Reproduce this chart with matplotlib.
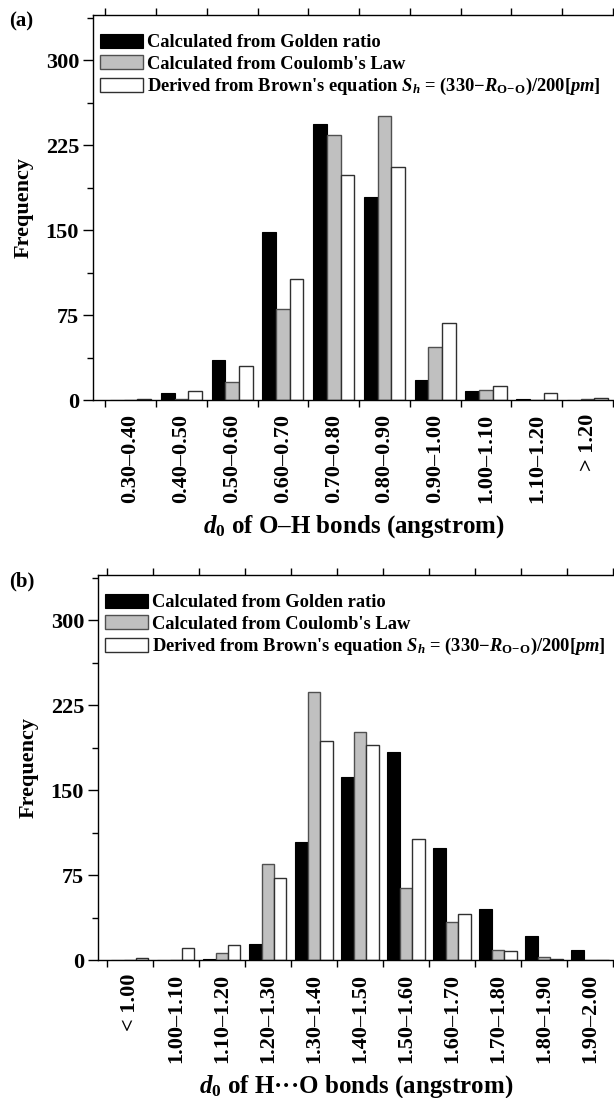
import matplotlib
matplotlib.use("Agg")
import matplotlib.pyplot as plt
import numpy as np
from matplotlib.ticker import FixedLocator, NullFormatter, FixedFormatter

plt.rcParams['font.family'] = ['Liberation Serif', 'DejaVu Serif']
plt.rcParams['font.weight'] = 'bold'
plt.rcParams['mathtext.fontset'] = 'custom'
plt.rcParams['mathtext.rm'] = 'Liberation Serif:bold'
plt.rcParams['mathtext.it'] = 'Liberation Serif:bold:italic'
plt.rcParams['mathtext.bf'] = 'Liberation Serif:bold'

# ---------------- data ----------------
series_names = ["Calculated from Golden ratio",
                "Calculated from Coulomb's Law",
                r"Derived from Brown's equation $S_h$ = (330$-$$R_{\mathrm{O\!-\!O}}$)/200[$pm$]"]

cats_a = ["0.30–0.40", "0.40–0.50", "0.50–0.60", "0.60–0.70", "0.70–0.80",
          "0.80–0.90", "0.90–1.00", "1.00–1.10", "1.10–1.20", "> 1.20"]
golden_a = [0, 6, 35, 148, 244, 179, 18, 8, 1, 0]
coulomb_a = [0, 1, 16, 80, 234, 251, 47, 9, 0, 1]
brown_a = [1, 8, 30, 107, 199, 206, 68, 12, 6, 2]

cats_b = ["< 1.00", "1.00–1.10", "1.10–1.20", "1.20–1.30", "1.30–1.40",
          "1.40–1.50", "1.50–1.60", "1.60–1.70", "1.70–1.80", "1.80–1.90", "1.90–2.00"]
golden_b = [0, 0, 1, 14, 104, 162, 184, 99, 45, 21, 9]
coulomb_b = [0, 0, 6, 85, 237, 201, 64, 34, 9, 3, 0]
brown_b = [2, 11, 13, 72, 193, 190, 107, 41, 8, 1, 0]

yticks = [0, 75, 150, 225, 300]

W, H = 614, 1098
fig = plt.figure(figsize=(W / 100, H / 100), dpi=100)


def panel(rect, cats, s1, s2, s3, xlabel, letter, xleft):
    ax = fig.add_axes(rect)
    n = len(cats)
    x = np.arange(n)
    w = 0.27
    ax.bar(x - w, s1, w, color='black', edgecolor='black', linewidth=0.8, label=series_names[0])
    ax.bar(x, s2, w, color='#c0c0c0', edgecolor='#505050', linewidth=1.0, label=series_names[1])
    ax.bar(x + w, s3, w, color='white', edgecolor='#303030', linewidth=1.0, label=series_names[2])
    ax.set_xlim(xleft, n - 0.5 + 0.02)
    ax.set_ylim(0, 340)
    # x: ticks at boundaries, labels at centres
    ax.xaxis.set_major_locator(FixedLocator(np.arange(n + 1) - 0.5))
    ax.xaxis.set_major_formatter(NullFormatter())
    ax.xaxis.set_minor_locator(FixedLocator(x))
    ax.xaxis.set_minor_formatter(FixedFormatter(cats))
    ax.tick_params(axis='x', which='major', direction='out', length=5, width=1, top=True)
    ax.tick_params(axis='x', which='minor', length=0, labelsize=16, rotation=90, pad=10)
    ax.set_yticks(yticks)
    ax.yaxis.set_minor_locator(FixedLocator([37.5, 112.5, 187.5, 262.5, 337.5]))
    ax.tick_params(axis='y', which='major', direction='out', length=7, width=1, labelsize=16, pad=3)
    ax.tick_params(axis='y', which='minor', direction='out', length=4, width=1)
    for lab in ax.get_yticklabels() + ax.get_xticklabels(minor=True):
        lab.set_fontweight('bold')
    ax.spines['right'].set_visible(False)
    for s in ['left', 'top', 'bottom']:
        ax.spines[s].set_linewidth(1.0)
    ax.set_ylabel('Frequency', fontsize=16, fontweight='bold', labelpad=9)
    ax.set_xlabel(xlabel, fontsize=18, fontweight='bold', labelpad=7)
    leg = ax.legend(loc='upper left', frameon=False, fontsize=13.3, handlelength=2.3,
                    handleheight=0.8, handletextpad=0.25, labelspacing=0.2,
                    borderaxespad=0.0, bbox_to_anchor=(0.0, 0.97))
    for t in leg.get_texts():
        t.set_fontweight('bold')
    fig.text(0.015, rect[1] + rect[3] + 0.003, letter, fontsize=15, fontweight='bold', va='top', ha='left')
    return ax


panel([93 / W, 1 - 400 / H, 1 - 93 / W, 385 / H], cats_a, golden_a, coulomb_a, brown_a,
      r"$d_0$ of O–H bonds (angstrom)", "(a)", -0.74)
panel([98 / W, 1 - 960 / H, 1 - 98 / W, 385 / H], cats_b, golden_b, coulomb_b, brown_b,
      r"$d_0$ of H···O bonds (angstrom)", "(b)", -0.69)

fig.savefig("out.png", dpi=100)
